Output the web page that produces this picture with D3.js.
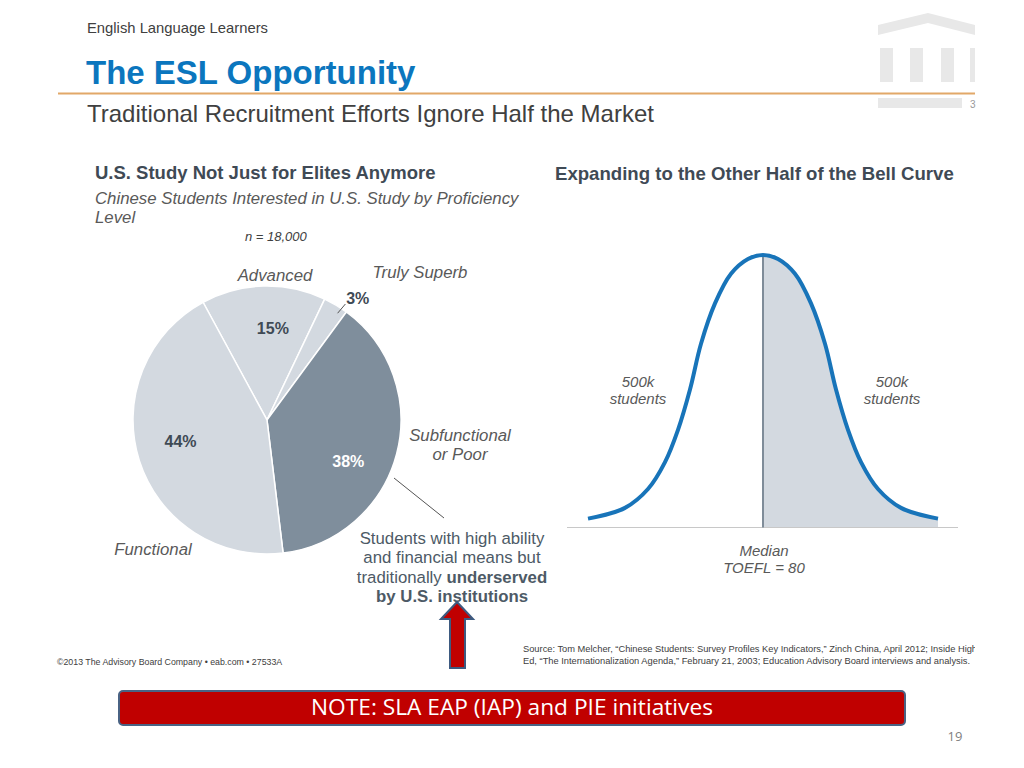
<!DOCTYPE html>
<html>
<head>
<meta charset="utf-8">
<script src="https://cdn.jsdelivr.net/npm/d3@7"></script>
<style>
  body { margin: 0; background: #fff; }
  svg { display: block; font-family: "Liberation Sans", Arial, sans-serif; }
</style>
</head>
<body>
<svg id="chart" width="1024" height="768"></svg>
<script>
// pie data (share of students by proficiency, %)
const levels = ["Advanced", "Truly Superb", "Subfunctional or Poor", "Functional"];
const shares = [15, 3, 38, 44];
const shareLabels = ["15%", "3%", "38%", "44%"];

// bell curve (x = distance from the median, y = relative height)
const bellX = [-175, -138, -115, -98, -85, -73, -62, -48, -32, -15, 0,
  15, 32, 48, 62, 73, 85, 98, 115, 138, 175];
const bellY = [0.02, 0.06, 0.13, 0.23, 0.35, 0.5, 0.67, 0.82, 0.93, 0.985, 1,
  0.985, 0.93, 0.82, 0.67, 0.5, 0.35, 0.23, 0.13, 0.06, 0.02];
const medianX = 0;

const svg = d3.select("#chart");
const grey = "#404040";
const slate = "#3f4a55";

// ---- header ----
svg.append("text").attr("x", 87).attr("y", 33)
  .attr("font-size", 14.8).attr("fill", grey).text("English Language Learners");
svg.append("text").attr("x", 86).attr("y", 84)
  .attr("font-size", 33).attr("font-weight", "bold").attr("fill", "#0b76be")
  .text("The ESL Opportunity");
svg.append("text").attr("x", 87).attr("y", 122)
  .attr("font-size", 24).attr("fill", grey)
  .text("Traditional Recruitment Efforts Ignore Half the Market");

// logo (faded building)
const logo = svg.append("g").attr("fill", "#e8e8e8");
logo.append("path").attr("d", "M878,25 L928,13 L975,25 L975,35 L928,23 L878,35 Z");
[880, 910, 941, 970].forEach((x) => {
  logo.append("rect").attr("x", x).attr("y", 48)
    .attr("width", x === 970 ? 5 : 13).attr("height", 34);
});
logo.append("rect").attr("x", 878).attr("y", 98).attr("width", 84).attr("height", 10);
svg.append("text").attr("x", 970).attr("y", 108).attr("font-size", 10)
  .attr("fill", "#999").text("3");

svg.append("line").attr("x1", 58).attr("x2", 975).attr("y1", 93.5).attr("y2", 93.5)
  .attr("stroke", "#e2a868").attr("stroke-width", 2);

// ---- left panel: pie ----
svg.append("text").attr("x", 95).attr("y", 179)
  .attr("font-size", 18.5).attr("font-weight", "bold").attr("fill", slate)
  .text("U.S. Study Not Just for Elites Anymore");
const sub = svg.append("text").attr("font-size", 16.8).attr("font-style", "italic")
  .attr("fill", "#595959");
sub.append("tspan").attr("x", 95).attr("y", 204)
  .text("Chinese Students Interested in U.S. Study by Proficiency");
sub.append("tspan").attr("x", 95).attr("y", 223).text("Level");
svg.append("text").attr("x", 245).attr("y", 241)
  .attr("font-size", 13).attr("font-style", "italic").attr("fill", grey)
  .text("n = 18,000");

const cx = 267, cy = 420, r = 134;
const pie = d3.pie().sort(null)
  .startAngle(-28.5 * Math.PI / 180)
  .endAngle((360 - 28.5) * Math.PI / 180);
const arcs = pie(shares);
const arc = d3.arc().innerRadius(0).outerRadius(r);
const sliceFill = ["#d3d9e0", "#d3d9e0", "#7f8e9c", "#d3d9e0"];

const pg = svg.append("g").attr("transform", `translate(${cx},${cy})`);
pg.selectAll("path").data(arcs).enter().append("path")
  .attr("d", arc)
  .attr("fill", (d, i) => sliceFill[i])
  .attr("stroke", "#fff").attr("stroke-width", 1.5);

// percentage labels: radius and angle shift per slice
const labelR = [92, 152, 91, 89];
const labelShift = [0.09, 0.1, 0.21, 0.07];
const labelFill = [slate, slate, "#fff", slate];
const polar = (a, rr) => [rr * Math.sin(a), -rr * Math.cos(a)];
pg.selectAll(".pct").data(arcs).enter().append("text")
  .attr("class", "pct")
  .attr("transform", (d, i) => {
    const c = polar((d.startAngle + d.endAngle) / 2 + labelShift[i], labelR[i]);
    return `translate(${c[0]},${c[1]})`;
  })
  .attr("text-anchor", "middle").attr("dy", "0.35em")
  .attr("font-size", 16).attr("font-weight", "bold")
  .attr("fill", (d, i) => labelFill[i])
  .text((d, i) => shareLabels[i]);

// leader for the small slice
const tsMid = (arcs[1].startAngle + arcs[1].endAngle) / 2 + 0.045;
const p1 = polar(tsMid, r - 6), p2 = polar(tsMid + 0.01, r + 6);
pg.append("line").attr("x1", p1[0]).attr("y1", p1[1]).attr("x2", p2[0]).attr("y2", p2[1])
  .attr("stroke", "#555").attr("stroke-width", 1);

// category names
const catPos = [[275, 281], [420, 278], [460, 441], [153, 555]];
const catLines = [["Advanced"], ["Truly Superb"], ["Subfunctional", "or Poor"], ["Functional"]];
levels.forEach((name, i) => {
  const t = svg.append("text").attr("text-anchor", "middle")
    .attr("font-size", 16.8).attr("font-style", "italic").attr("fill", "#595959");
  catLines[i].forEach((ln, j) => {
    t.append("tspan").attr("x", catPos[i][0]).attr("y", catPos[i][1] + j * 19).text(ln);
  });
});

// callout
svg.append("line").attr("x1", 394).attr("y1", 478).attr("x2", 444).attr("y2", 518)
  .attr("stroke", "#555").attr("stroke-width", 1);
const call = svg.append("text").attr("text-anchor", "middle")
  .attr("font-size", 16.8).attr("fill", "#4d5a66");
call.append("tspan").attr("x", 452).attr("y", 544).text("Students with high ability");
call.append("tspan").attr("x", 452).attr("y", 563).text("and financial means but");
const l3 = call.append("tspan").attr("x", 452).attr("y", 583);
l3.append("tspan").text("traditionally ");
l3.append("tspan").attr("font-weight", "bold").text("underserved");
call.append("tspan").attr("x", 452).attr("y", 602).attr("font-weight", "bold")
  .text("by U.S. institutions");

// red arrow
svg.append("path")
  .attr("d", "M457,602 L473,619 L465,619 L465,668 L450,668 L450,619 L441,619 Z")
  .attr("fill", "#c00000").attr("stroke", "#3d5a80").attr("stroke-width", 2)
  .attr("stroke-linejoin", "miter");

// ---- right panel: bell curve ----
svg.append("text").attr("x", 555).attr("y", 180)
  .attr("font-size", 18.6).attr("font-weight", "bold").attr("fill", slate)
  .text("Expanding to the Other Half of the Bell Curve");

const baseY = 527.5;
const x = d3.scaleLinear().domain([-175, 175]).range([588, 938]);
const y = d3.scaleLinear().domain([0, 1]).range([524, 255]);
const pts = bellX.map((v, i) => ({ x: v, y: bellY[i] }));

const area = d3.area().curve(d3.curveCatmullRom)
  .x((d) => x(d.x)).y0(baseY).y1((d) => y(d.y));
svg.append("path").datum(pts.filter((d) => d.x >= medianX))
  .attr("d", area).attr("fill", "#d3d9e0");

svg.append("line").attr("x1", 567).attr("x2", 958).attr("y1", baseY).attr("y2", baseY)
  .attr("stroke", "#c8c8c8").attr("stroke-width", 1);

svg.append("line").attr("x1", x(medianX)).attr("x2", x(medianX))
  .attr("y1", baseY).attr("y2", y(1))
  .attr("stroke", "#7f8c99").attr("stroke-width", 2);

const line = d3.line().curve(d3.curveCatmullRom).x((d) => x(d.x)).y((d) => y(d.y));
svg.append("path").datum(pts).attr("d", line)
  .attr("fill", "none").attr("stroke", "#1874b9").attr("stroke-width", 4);

const bellTxt = [[638, 387, "500k", "students"], [892, 387, "500k", "students"], [764, 556, "Median", "TOEFL = 80"]];
bellTxt.forEach(([tx, ty, a, b]) => {
  const t = svg.append("text").attr("text-anchor", "middle")
    .attr("font-size", 15).attr("font-style", "italic").attr("fill", "#595959");
  t.append("tspan").attr("x", tx).attr("y", ty).text(a);
  t.append("tspan").attr("x", tx).attr("y", ty + 17).text(b);
});

// ---- footer ----
svg.append("clipPath").attr("id", "srcClip").append("rect")
  .attr("x", 500).attr("y", 630).attr("width", 475).attr("height", 50);
const src = svg.append("text").attr("clip-path", "url(#srcClip)")
  .attr("font-size", 9.3).attr("fill", grey);
src.append("tspan").attr("x", 523).attr("y", 652)
  .text("Source: Tom Melcher, \u201cChinese Students: Survey Profiles Key Indicators,\u201d Zinch China, April 2012; Inside High");
src.append("tspan").attr("x", 523).attr("y", 664)
  .text("Ed, \u201cThe Internationalization Agenda,\u201d February 21, 2003; Education Advisory Board interviews and analysis.");
svg.append("text").attr("x", 57).attr("y", 665).attr("font-size", 8.8).attr("fill", grey)
  .text("\u00a92013 The Advisory Board Company \u2022 eab.com \u2022 27533A");

svg.append("rect").attr("x", 119).attr("y", 691).attr("width", 786).attr("height", 34)
  .attr("rx", 4).attr("fill", "#c00000").attr("stroke", "#4a6384").attr("stroke-width", 2);
svg.append("text").attr("x", 512).attr("y", 715).attr("text-anchor", "middle")
  .attr("font-family", "'Open Sans', sans-serif").attr("font-size", 22).attr("fill", "#fff")
  .attr("textLength", 402).attr("lengthAdjust", "spacingAndGlyphs")
  .text("NOTE:  SLA EAP (IAP) and PIE initiatives");
svg.append("text").attr("x", 955).attr("y", 741).attr("text-anchor", "middle")
  .attr("font-family", "'Open Sans', sans-serif").attr("font-size", 13).attr("fill", "#7f7f7f")
  .text("19");
</script>
</body>
</html>
